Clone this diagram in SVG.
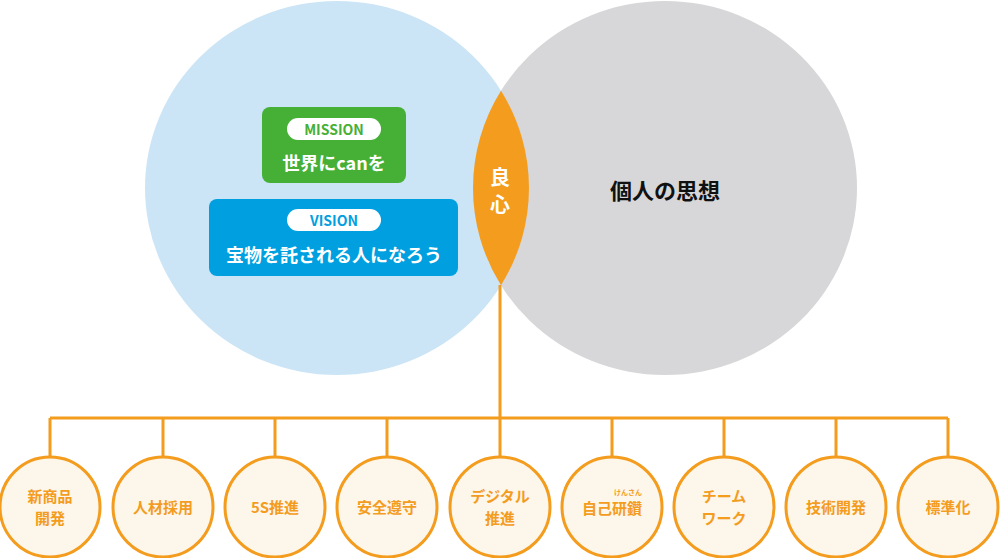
<svg xmlns="http://www.w3.org/2000/svg" width="1000" height="558" viewBox="0 0 1000 558">
<style>
text{font-family:"Noto Sans CJK JP","Noto Sans",sans-serif;text-anchor:middle}
.n circle{fill:#fdf6ea;stroke:#f39c1e;stroke-width:3}
.n text{fill:#f39c1e;font-size:15px;font-weight:700}
.pill{fill:#fff}
.w{fill:#fff;font-weight:700}
.c{stroke:#f39c1e;stroke-width:3;fill:none}
</style>
<g id="left"><ellipse cx="337" cy="188" rx="192" ry="187" fill="#cbe5f6"/></g>
<g id="right"><ellipse cx="665" cy="188" rx="192" ry="187" fill="#d7d7d9"/><text x="665" y="199" font-size="22" font-weight="700" fill="#111">個人の思想</text></g>
<g id="lens"><path d="M501 90.8 A192 187 0 0 0 501 285.2 A192 187 0 0 0 501 90.8Z" fill="#f39c1e"/>
<text class="w" x="500" y="185" font-size="20">良</text><text class="w" x="500" y="212" font-size="20">心</text></g>
<g id="mission"><rect x="262" y="107" width="144" height="76" rx="8" fill="#45b035"/><rect class="pill" x="287" y="118" width="94" height="22" rx="11"/>
<text x="334" y="135" font-size="14" font-weight="700" fill="#45b035">MISSION</text><text class="w" x="334" y="170" font-size="18">世界にcanを</text></g>
<g id="vision"><rect x="209" y="199" width="249" height="77" rx="8" fill="#00a0e0"/><rect class="pill" x="287" y="209" width="94" height="22" rx="11"/>
<text x="334" y="226" font-size="14" font-weight="700" fill="#00a0e0">VISION</text><text class="w" x="334" y="262" font-size="18">宝物を託される人になろう</text></g>
<g id="connectors" class="c"><path d="M500 285V418M50 418H948M50 418V457M163 418V457M275 418V457M387 418V457M500 418V457M612 418V457M724 418V457M836 418V457M948 418V457"/></g>
<g class="n" id="n1"><circle cx="50" cy="507" r="50"/><text x="50" y="502">新商品</text><text x="50" y="524">開発</text></g>
<g class="n" id="n2"><circle cx="163" cy="507" r="50"/><text x="163" y="513">人材採用</text></g>
<g class="n" id="n3"><circle cx="275" cy="507" r="50"/><text x="275" y="513">5S推進</text></g>
<g class="n" id="n4"><circle cx="387" cy="507" r="50"/><text x="387" y="513">安全遵守</text></g>
<g class="n" id="n5"><circle cx="500" cy="507" r="50"/><text x="500" y="502">デジタル</text><text x="500" y="524">推進</text></g>
<g class="n" id="n6"><circle cx="612" cy="507" r="50"/><text x="612" y="514">自己研鑽</text><text x="628" y="495" style="font-size:7px">けんさん</text></g>
<g class="n" id="n7"><circle cx="724" cy="507" r="50"/><text x="724" y="502">チーム</text><text x="724" y="524">ワーク</text></g>
<g class="n" id="n8"><circle cx="836" cy="507" r="50"/><text x="836" y="513">技術開発</text></g>
<g class="n" id="n9"><circle cx="948" cy="507" r="50"/><text x="948" y="513">標準化</text></g>
</svg>
